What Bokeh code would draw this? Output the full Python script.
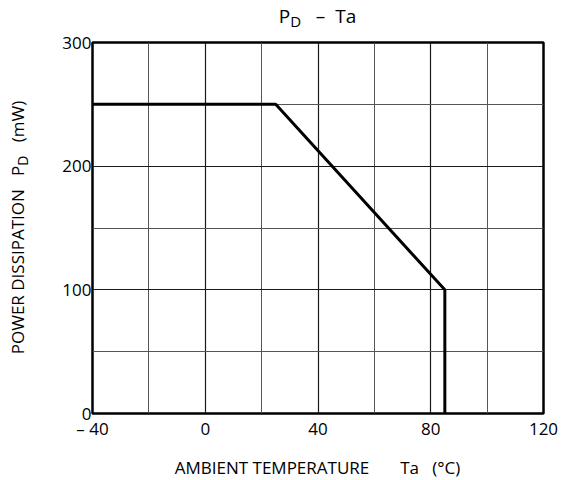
from bokeh.plotting import figure
from bokeh.models import Range1d, FixedTicker, ColumnDataSource, Div
from bokeh.layouts import column, row
from bokeh.embed import file_html
from bokeh.resources import INLINE

# ---- data ----
ta_points = [-40, 25, 85, 85]          # ambient temperature (°C)
pd_points = [250, 250, 100, 0]         # power dissipation (mW)

x_major_ticks = [-40, 0, 40, 80, 120]
x_minor_ticks = [-20, 20, 60, 100]
y_major_ticks = [0, 100, 200, 300]
y_minor_ticks = [50, 150, 250]
x_tick_labels = {-40: "\u2013 40"}

title_main, title_sub, title_rest = "P", "D", "\u2013\u00a0\u00a0Ta"
xlabel_parts = ["AMBIENT TEMPERATURE", "Ta", "(\u00b0C)"]
ylabel_parts = ["POWER DISSIPATION", "P", "D", "(mW)"]

FONT = "Open Sans"
CSS_FONT = "font-family:'Open Sans',sans-serif;color:black;"

# ---- layout sizes (px) ----
W, H = 564, 480
TITLE_H = 32
XLAB_H = 31
YLAB_W = 34
FR_LEFT, FR_RIGHT, FR_TOP, FR_BOTTOM = 92, 543, 42, 413

fig_w = W - YLAB_W
fig_h = H - TITLE_H - XLAB_H

p = figure(width=fig_w, height=fig_h, output_backend="svg", toolbar_location=None,
           x_range=Range1d(-40, 120), y_range=Range1d(0, 300), margin=0)
p.min_border_left = FR_LEFT - YLAB_W
p.min_border_right = W - FR_RIGHT
p.min_border_top = FR_TOP - TITLE_H
p.min_border_bottom = (H - XLAB_H) - FR_BOTTOM
p.background_fill_color = "white"
p.border_fill_color = "white"
p.outline_line_color = "black"
p.outline_line_width = 2.5

p.xaxis.ticker = FixedTicker(ticks=x_major_ticks, minor_ticks=x_minor_ticks)
p.yaxis.ticker = FixedTicker(ticks=y_major_ticks, minor_ticks=y_minor_ticks)
p.xaxis.major_label_overrides = x_tick_labels
for ax in (p.xaxis, p.yaxis):
    ax.axis_line_color = None
    ax.major_tick_line_color = None
    ax.minor_tick_line_color = None
    ax.major_label_text_font = FONT
    ax.major_label_text_font_size = "17px"
    ax.major_label_text_color = "black"
p.xaxis.major_label_standoff = -3
p.yaxis.major_label_standoff = -5

p.xgrid.ticker = FixedTicker(ticks=x_major_ticks, minor_ticks=x_minor_ticks)
p.ygrid.ticker = FixedTicker(ticks=y_major_ticks, minor_ticks=y_minor_ticks)
for g in (p.xgrid, p.ygrid):
    g.grid_line_color = "#1a1a1a"
    g.grid_line_width = 1.2
    g.grid_line_alpha = 1
    g.minor_grid_line_color = "#555555"
    g.minor_grid_line_width = 1

src = ColumnDataSource(dict(x=ta_points, y=pd_points))
p.line("x", "y", source=src, line_color="black", line_width=3)

NB = "&nbsp;"
def sub(t, size=14, drop=4):
    return "<span style='font-size:%dpx;position:relative;top:%dpx;'>%s</span>" % (size, drop, t)

frame_w = FR_RIGHT - FR_LEFT
frame_h = FR_BOTTOM - FR_TOP

title_html = (
    "<div style=\"%s font-size:19px;line-height:19px;white-space:nowrap;"
    "margin-left:%dpx;width:%dpx;text-align:center;padding-top:7px;\">"
    "%s%s%s%s</div>"
) % (CSS_FONT, FR_LEFT, frame_w, title_main, sub(title_sub, 15, 4), NB * 3,
     title_rest.replace("\u00a0", NB))
title_div = Div(text=title_html, width=W, height=TITLE_H, margin=0)

xlab_html = (
    "<div style=\"%s font-size:17px;line-height:17px;white-space:nowrap;"
    "margin-left:%dpx;width:%dpx;text-align:center;padding-top:10px;\">"
    "%s%s%s%s%s</div>"
) % (CSS_FONT, FR_LEFT, frame_w, xlabel_parts[0], NB * 7, xlabel_parts[1], NB * 3, xlabel_parts[2])
xlab_div = Div(text=xlab_html, width=W, height=XLAB_H, margin=0)

ylab_html = (
    "<div style='position:relative;width:%dpx;height:%dpx;'>"
    "<div style=\"%s position:absolute;left:0;top:0;width:%dpx;height:36px;"
    "font-size:17px;line-height:36px;white-space:nowrap;text-align:center;"
    "transform-origin:0 0;transform:translate(0px,%dpx) rotate(-90deg);\">"
    "%s%s%s%s%s</div></div>"
) % (YLAB_W, fig_h, CSS_FONT, frame_h, FR_BOTTOM - TITLE_H,
     ylabel_parts[0], NB * 3, ylabel_parts[1] + sub(ylabel_parts[2]), NB * 3, ylabel_parts[3])
ylab_div = Div(text=ylab_html, width=YLAB_W, height=fig_h, margin=0)

layout = column(title_div, row(ylab_div, p, spacing=0, margin=0), xlab_div, spacing=0, margin=0)

open("out.html", "w").write(file_html(layout, INLINE))
